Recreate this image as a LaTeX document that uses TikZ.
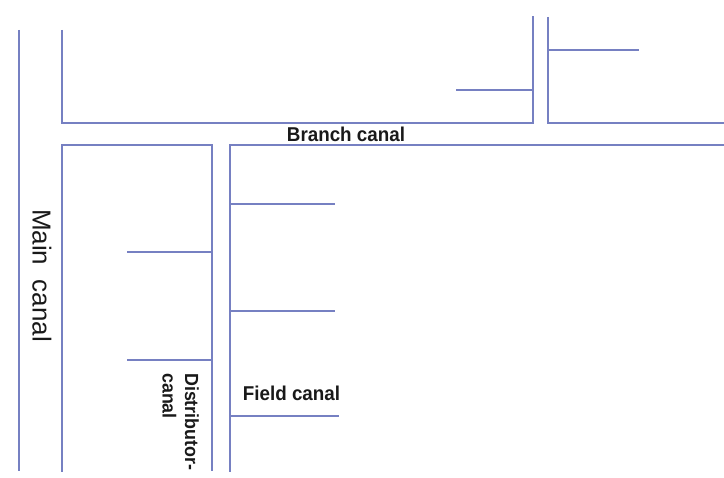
\documentclass[tikz,border=0pt]{standalone}
\usepackage{fontspec}
\setmainfont{Liberation Sans}
\newfontfamily\lblfont[FakeStretch=0.94]{Liberation Sans Bold}
\definecolor{canal}{RGB}{118,128,194}
\begin{document}
\begin{tikzpicture}[x=1pt,y=-1pt,
  canalline/.style={draw=canal,line width=2pt,line cap=butt,line join=miter},
  lbl/.style={inner sep=0pt,text=black!90}]
\useasboundingbox[fill=white] (0,0) rectangle (724,478);
% main canal
\draw[canalline] (19,30) -- (19,471);
% upper left + branch canal upper bank
\draw[canalline] (62,30) -- (62,123) -- (532.5,123) -- (532.5,16);
\draw[canalline] (548,17) -- (548,123) -- (724,123);
\draw[canalline] (456,90) -- (532.5,90);
\draw[canalline] (548,50) -- (639,50);
% lower bank
\draw[canalline] (62,472) -- (62,145) -- (212,145) -- (212,471);
\draw[canalline] (230,472) -- (230,145) -- (724,145);
% field canals
\draw[canalline] (127,252) -- (212,252);
\draw[canalline] (127,360) -- (212,360);
\draw[canalline] (230,204) -- (335,204);
\draw[canalline] (230,311) -- (335,311);
\draw[canalline] (230,416) -- (339,416);
% labels
\node[lbl,font=\lblfont\fontsize{20}{20}\selectfont] (bc) at (346,134.5) {Branch canal};
\node[lbl,font=\lblfont\fontsize{20}{20}\selectfont] (fc) at (291.5,393) {Field canal};
\node[lbl,font=\fontsize{26}{26}\selectfont,rotate=-90] (mc) at (42,275.5) {Main\ \ canal};
\node[lbl,font=\lblfont\fontsize{19}{22.5}\selectfont,rotate=-90,align=left,anchor=north west] (dc) at (199,373) {Distributor-\\canal};
\end{tikzpicture}
\end{document}
